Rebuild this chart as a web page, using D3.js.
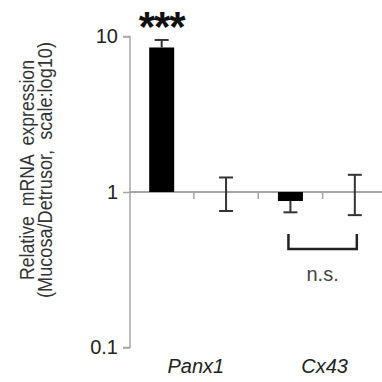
<!DOCTYPE html>
<html><head><meta charset="utf-8">
<script src="https://cdn.jsdelivr.net/npm/d3@7"></script>
<style>body{margin:0;background:#fff}svg{display:block}text{font-family:"Liberation Sans",Arial,sans-serif}</style>
</head><body><svg id="c" width="382" height="382"></svg>
<script>
const genes = ["Panx1", "Cx43"];
const bars = ["Panx1-a", "Panx1-b", "Cx43-a", "Cx43-b"];
const barGene = ["Panx1", "Panx1", "Cx43", "Cx43"];
const barFill = ["black", "white", "black", "white"];
const values = [8.5, 1.0, 0.875, 1.0];
const errHigh = [9.5, 1.24, 0.875, 1.29];
const errLow = [8.5, 0.755, 0.74, 0.71];
const yTicks = [0.1, 1, 10];
const yTickLabels = ["0.1", "1", "10"];
const titleLines = ["Relative  mRNA  expression", "(Mucosa/Detrusor,  scale:log10)"];

const svg = d3.select("#c");
const y = d3.scaleLog().domain([0.1, 10]).range([347.5, 36.5]);
const x = d3.scaleBand().domain(bars).range([129.5, 387]).paddingInner(0).paddingOuter(0);
const gx = d3.scaleBand().domain(genes).range([129.5, 387]);
const bw = 25;

// baseline at 1
svg.append("line").attr("x1", 129.5).attr("x2", 382).attr("y1", y(1)).attr("y2", y(1))
  .attr("stroke", "#a6a6a6").attr("stroke-width", 2);
bars.slice(1).forEach(b => {
  svg.append("line").attr("x1", x(b)).attr("x2", x(b)).attr("y1", y(1)).attr("y2", y(1) + 7)
    .attr("stroke", "#a6a6a6").attr("stroke-width", 1.5);
});

// y axis
const yAxis = d3.axisLeft(y).tickValues(yTicks).tickFormat((d, i) => yTickLabels[i]).tickSize(7).tickPadding(5);
const ga = svg.append("g").attr("transform", "translate(130,0)").call(yAxis);
ga.select(".domain").attr("stroke", "#a6a6a6").attr("stroke-width", 1.5).attr("d", `M-7,${y(10)}H0V${y(0.1)}H-7`);
ga.selectAll(".tick line").attr("stroke", "#a6a6a6").attr("stroke-width", 1.5);
ga.selectAll(".tick text").attr("font-size", 20).attr("fill", "#222").attr("font-family", "Liberation Sans, Arial, sans-serif");

// bars
bars.forEach((b, i) => {
  const cx = x(b) + x.bandwidth() / 2;
  const v = values[i];
  const top = Math.min(y(v), y(1)), bot = Math.max(y(v), y(1));
  if (barFill[i] === "black") {
    svg.append("rect").attr("x", cx - bw / 2).attr("y", top).attr("width", bw).attr("height", Math.max(bot - top, 0))
      .attr("fill", "#000");
  }
  const hi = errHigh[i], lo = errLow[i];
  const y1 = y(hi), y2 = y(lo);
  svg.append("line").attr("x1", cx).attr("x2", cx).attr("y1", y1).attr("y2", y2).attr("stroke", "#333").attr("stroke-width", 2);
  if (hi > v) svg.append("line").attr("x1", cx - 7).attr("x2", cx + 7).attr("y1", y1).attr("y2", y1).attr("stroke", "#333").attr("stroke-width", 2);
  if (lo < v) svg.append("line").attr("x1", cx - 7).attr("x2", cx + 7).attr("y1", y2).attr("y2", y2).attr("stroke", "#333").attr("stroke-width", 2);
});

// gene labels
genes.forEach(g => {
  svg.append("text").attr("x", gx(g) + gx.bandwidth() / 2 + 2).attr("y", 373).attr("text-anchor", "middle")
    .attr("font-size", 20).attr("font-style", "italic").attr("fill", "#222").text(g);
});

// significance
const c0 = x(bars[0]) + x.bandwidth() / 2;
svg.append("text").attr("x", c0).attr("y", 41).attr("text-anchor", "middle").attr("font-size", 42)
  .attr("font-weight", "bold").attr("fill", "#111").attr("letter-spacing", -1).text("***");
const c2 = x(bars[2]) + x.bandwidth() / 2, c3 = x(bars[3]) + x.bandwidth() / 2;
svg.append("path").attr("d", `M${c2 - 2},234V249H${c3 + 2}V234`).attr("fill", "none").attr("stroke", "#222").attr("stroke-width", 2.5);
svg.append("text").attr("x", (c2 + c3) / 2).attr("y", 281).attr("text-anchor", "middle").attr("font-size", 20)
  .attr("fill", "#444").text("n.s.");

// y title, two lines, condensed to the original's length
const tg = svg.append("g").attr("transform", "translate(0,170) rotate(-90)");
const targetLen = [220, 256];
const baseY = [34, 51.5];
titleLines.forEach((t, i) => {
  tg.append("text").attr("x", 0).attr("y", baseY[i]).attr("text-anchor", "middle")
    .attr("font-size", 19.5).attr("fill", "#333").style("white-space", "pre")
    .attr("textLength", targetLen[i]).attr("lengthAdjust", "spacingAndGlyphs").text(t);
});
</script></body></html>
